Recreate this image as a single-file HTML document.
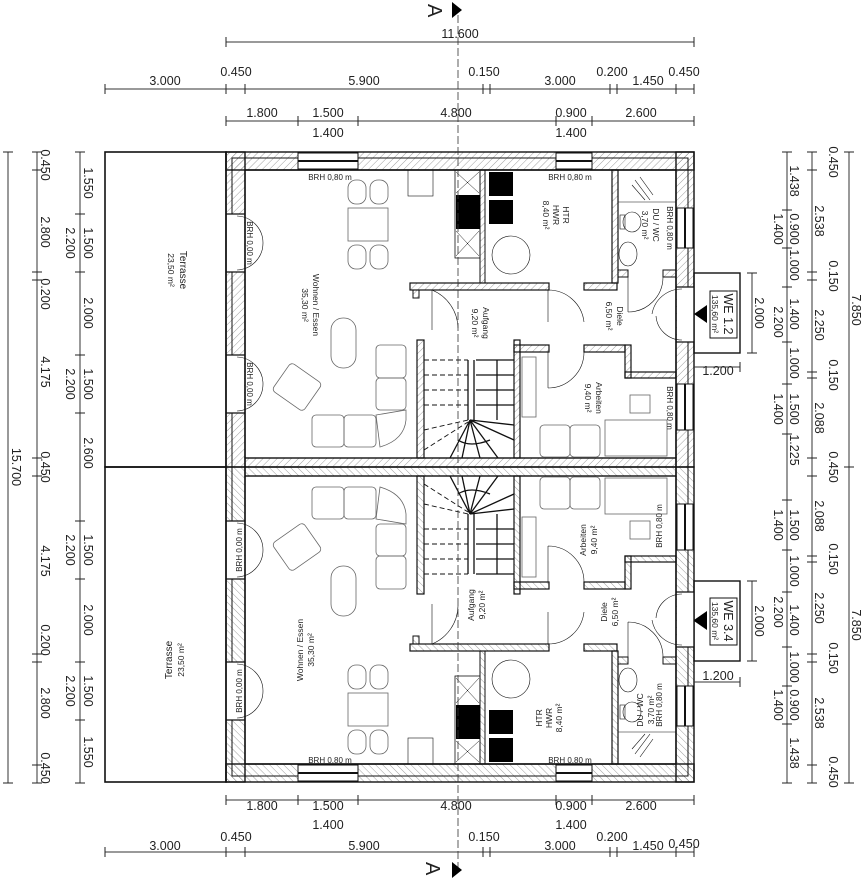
<!DOCTYPE html>
<html><head><meta charset="utf-8"><style>
html,body{margin:0;padding:0;background:#fff;}
svg{display:block;}
text{font-family:"Liberation Sans",sans-serif;fill:#222;}
.d{font-size:12.5px;}
.s{font-size:8px;}
.r{font-size:8.5px;}
</style></head><body>
<svg width="864" height="883" viewBox="0 0 864 883" xmlns="http://www.w3.org/2000/svg">
<defs>
<pattern id="h" width="5" height="5" patternUnits="userSpaceOnUse" patternTransform="rotate(45)">
<line x1="0" y1="0" x2="0" y2="5" stroke="#777" stroke-width="0.7"/>
</pattern>
<g id="half" fill="none" stroke="#111">
 <rect x="105" y="152" width="121" height="315" stroke-width="1.6"/>
 <rect x="226" y="152" width="468" height="18" fill="url(#h)" stroke-width="1.4"/>
 <rect x="226" y="152" width="19" height="315" fill="url(#h)" stroke-width="1.4"/>
 <rect x="676" y="152" width="18" height="315" fill="url(#h)" stroke-width="1.4"/>
 <rect x="245" y="458" width="431" height="9" fill="url(#h)" stroke-width="1.4"/>
 <rect x="232" y="158" width="456" height="12" stroke-width="1"/>
 <line x1="232" y1="158" x2="232" y2="467" stroke-width="1"/>
 <line x1="688" y1="158" x2="688" y2="467" stroke-width="1"/>
 <line x1="245" y1="170" x2="676" y2="170" stroke-width="1.4"/>
 <line x1="245" y1="170" x2="245" y2="458" stroke-width="1.4"/>
 <line x1="676" y1="170" x2="676" y2="458" stroke-width="1.4"/>
 <rect x="298" y="153" width="60" height="16" fill="#fff" stroke-width="1"/>
 <line x1="298" y1="161" x2="358" y2="161" stroke-width="2"/>
 <rect x="556" y="153" width="36" height="16" fill="#fff" stroke-width="1"/>
 <line x1="556" y1="161" x2="592" y2="161" stroke-width="2"/>
 <rect x="227" y="214" width="17" height="58" fill="#fff" stroke="none"/>
 <line x1="226" y1="214" x2="245" y2="214" stroke-width="1.2"/>
 <line x1="226" y1="272" x2="245" y2="272" stroke-width="1.2"/>
 <path d="M237 216 A27 27 0 0 1 263 243 M237 270 A27 27 0 0 0 263 243" stroke-width="0.6"/>
 <rect x="227" y="355" width="17" height="58" fill="#fff" stroke="none"/>
 <line x1="226" y1="355" x2="245" y2="355" stroke-width="1.2"/>
 <line x1="226" y1="413" x2="245" y2="413" stroke-width="1.2"/>
 <path d="M237 357 A27 27 0 0 1 263 384 M237 411 A27 27 0 0 0 263 384" stroke-width="0.6"/>
 <rect x="677" y="208" width="16" height="40" fill="#fff" stroke-width="1"/>
 <line x1="685" y1="208" x2="685" y2="248" stroke-width="2"/>
 <rect x="677" y="384" width="16" height="46" fill="#fff" stroke-width="1"/>
 <line x1="685" y1="384" x2="685" y2="430" stroke-width="2"/>
 <rect x="677" y="287" width="17" height="55" fill="#fff" stroke="none"/>
 <line x1="676" y1="287" x2="694" y2="287" stroke-width="1.2"/>
 <line x1="676" y1="342" x2="694" y2="342" stroke-width="1.2"/>
 <path d="M682 289 A30 30 0 0 0 652 314 M682 340 A26 26 0 0 1 656 316" stroke-width="0.6"/>
 <rect x="694" y="273" width="46" height="80" stroke-width="1.4"/>
 <polygon points="694,314 707,305 707,323" fill="#000" stroke="none"/>
 <rect x="480" y="170" width="5" height="113" fill="url(#h)" stroke-width="1"/>
 <rect x="410" y="283" width="139" height="7" fill="url(#h)" stroke-width="1.2"/>
 <rect x="584" y="283" width="33" height="7" fill="url(#h)" stroke-width="1.2"/>
 <rect x="612" y="170" width="6" height="113" fill="url(#h)" stroke-width="1.2"/>
 <rect x="618" y="270" width="10" height="7" fill="url(#h)" stroke-width="1"/>
 <rect x="663" y="270" width="13" height="7" fill="url(#h)" stroke-width="1"/>
 <rect x="514" y="345" width="35" height="7" fill="url(#h)" stroke-width="1.2"/>
 <rect x="584" y="345" width="41" height="7" fill="url(#h)" stroke-width="1.2"/>
 <rect x="625" y="345" width="6" height="33" fill="url(#h)" stroke-width="1.2"/>
 <rect x="625" y="372" width="51" height="6" fill="url(#h)" stroke-width="1.2"/>
 <rect x="514" y="340" width="6" height="118" fill="url(#h)" stroke-width="1.2"/>
 <rect x="417" y="340" width="7" height="118" fill="url(#h)" stroke-width="1.2"/>
 <rect x="413" y="290" width="6" height="8" fill="url(#h)" stroke-width="1"/>
 <path d="M432 290 L432 330 M432 290 A42 42 0 0 1 458 328" stroke-width="0.6"/>
 <path d="M548 290 L548 322 M548 290 A36 36 0 0 1 584 322" stroke-width="0.6"/>
 <path d="M548 352 L548 388 M548 388 A36 36 0 0 0 584 352" stroke-width="0.6"/>
 <path d="M628 277 L628 312 M628 312 A35 35 0 0 0 663 277" stroke-width="0.6"/>
 <rect x="455" y="170" width="25" height="88" stroke-width="0.8"/>
 <rect x="456" y="195" width="24" height="34" fill="#000" stroke="none"/>
 <path d="M456 172 L479 193 M479 172 L456 193 M456 231 L479 256 M479 231 L456 256" stroke-width="0.5"/>
 <rect x="408" y="170" width="25" height="26" stroke-width="0.6"/>
 <rect x="489" y="172" width="24" height="24" fill="#000" stroke="none"/>
 <rect x="489" y="200" width="24" height="24" fill="#000" stroke="none"/>
 <circle cx="511" cy="255" r="19" stroke-width="0.6"/>
 <line x1="618" y1="202" x2="676" y2="202" stroke-width="0.6"/>
 <path d="M635 180 L650 200 M640 177 L653 195 M632 185 L645 200" stroke-width="0.6"/>
 <ellipse cx="632" cy="222" rx="9" ry="10" stroke-width="0.6"/>
 <rect x="620" y="215" width="5" height="14" stroke-width="0.6"/>
 <ellipse cx="628" cy="254" rx="9" ry="12" stroke-width="0.6"/>
 <g stroke="#666" stroke-width="0.8">
 <rect x="348" y="208" width="40" height="33" fill="none"/>
 <rect x="348" y="180" width="18" height="24" rx="8"/><rect x="370" y="180" width="18" height="24" rx="8"/>
 <rect x="348" y="245" width="18" height="24" rx="8"/><rect x="370" y="245" width="18" height="24" rx="8"/>
 <rect x="331" y="318" width="25" height="50" rx="12"/>
 <rect x="376" y="345" width="30" height="33" rx="4"/><rect x="376" y="378" width="30" height="32" rx="4"/>
 <rect x="312" y="415" width="32" height="32" rx="4"/><rect x="344" y="415" width="32" height="32" rx="4"/>
 <path d="M376 415 L406 410 L406 420 Q404 440 380 447 Z"/>
 <rect x="278" y="370" width="38" height="34" rx="4" transform="rotate(35 297 387)"/>
 <rect x="540" y="425" width="30" height="32" rx="4"/><rect x="570" y="425" width="30" height="32" rx="4"/>
 <rect x="605" y="420" width="62" height="36"/>
 <rect x="630" y="395" width="20" height="18"/>
 <rect x="522" y="357" width="14" height="60"/>
 </g>
 <g stroke="#111" stroke-width="1.3">
 <line x1="474" y1="360" x2="474" y2="420"/><line x1="468" y1="360" x2="468" y2="420"/>
 <line x1="476" y1="360" x2="514" y2="360"/><line x1="476" y1="375" x2="514" y2="375"/>
 <line x1="476" y1="390" x2="514" y2="390"/><line x1="476" y1="405" x2="514" y2="405"/>
 <line x1="497" y1="360" x2="497" y2="420"/>
 <path d="M470 420 L450 458 M470 420 L462 458 M470 420 L480 458 M470 420 L498 458 M470 420 L514 440 M470 420 L514 425 M458 440 Q470 448 490 440"/>
 </g>
 <g stroke="#111" stroke-width="0.9" stroke-dasharray="5,3">
 <line x1="424" y1="360" x2="468" y2="360"/><line x1="424" y1="375" x2="468" y2="375"/>
 <line x1="424" y1="390" x2="468" y2="390"/><line x1="424" y1="405" x2="468" y2="405"/>
 <line x1="424" y1="430" x2="468" y2="420"/><line x1="424" y1="450" x2="468" y2="422"/>
 </g>
</g>
</defs>
<use href="#half"/>
<use href="#half" transform="translate(0,934) scale(1,-1)"/>

<line x1="458" y1="15" x2="458" y2="868" stroke="#333" stroke-width="0.8" stroke-dasharray="8,3"/>
<text x="428" y="20" font-size="20" transform="rotate(90 436 12)">A</text>
<polygon points="452,2 462,10 452,18" fill="#000"/>
<text x="428" y="880" font-size="20" transform="rotate(90 436 870)">A</text>
<polygon points="452,862 462,870 452,878" fill="#000"/>

<g stroke="#333" stroke-width="1" fill="none">
 <line x1="226" y1="42" x2="694" y2="42"/>
 <line x1="105" y1="89" x2="694" y2="89"/>
 <line x1="226" y1="121" x2="694" y2="121"/>
 <line x1="105" y1="852" x2="694" y2="852"/>
 <line x1="226" y1="800" x2="694" y2="800"/>
 <line x1="8" y1="152" x2="8" y2="783"/>
 <line x1="37" y1="152" x2="37" y2="783"/>
 <line x1="80" y1="152" x2="80" y2="783"/>
 <line x1="787" y1="152" x2="787" y2="783"/>
 <line x1="812" y1="152" x2="812" y2="783"/>
 <line x1="849" y1="152" x2="849" y2="783"/>
 <line x1="752" y1="273" x2="752" y2="353"/>
 <line x1="752" y1="581" x2="752" y2="661"/>
 <line x1="694" y1="367" x2="740" y2="367"/>
 <line x1="694" y1="682" x2="740" y2="682"/>
</g>
<g stroke="#222" stroke-width="1">
 <path d="M226 37v10M694 37v10
 M105 84v10M226 84v10M245 84v10M483 84v10M490 84v10M610 84v10M617 84v10M676 84v10M694 84v10
 M226 116v10M298 116v10M358 116v10M556 116v10M592 116v10M694 116v10
 M105 847v10M226 847v10M245 847v10M483 847v10M490 847v10M610 847v10M617 847v10M676 847v10M694 847v10
 M226 795v10M298 795v10M358 795v10M556 795v10M592 795v10M694 795v10
 M3 152h10M3 783h10
 M32 152h10M32 170h10M32 272h10M32 280h10M32 458h10M32 476h10M32 654h10M32 662h10M32 765h10M32 783h10
 M75 152h10M75 214h10M75 272h10M75 355h10M75 413h10M75 521h10M75 579h10M75 662h10M75 720h10M75 783h10
 M782 152h10M782 210h10M782 248h10M782 287h10M782 342h10M782 384h10M782 434h10M782 500h10M782 550h10M782 592h10M782 647h10M782 686h10M782 724h10M782 783h10
 M807 152h10M807 170h10M807 272h10M807 280h10M807 372h10M807 378h10M807 458h10M807 476h10M807 556h10M807 562h10M807 654h10M807 662h10M807 765h10M807 783h10
 M844 152h10M844 467h10M844 783h10
 M747 273h10M747 353h10M747 581h10M747 661h10M740 362v10M740 677v10"/>
</g>
<g class="d" text-anchor="middle">
 <text x="460" y="38">11.600</text>
 <text x="165" y="85">3.000</text><text x="236" y="76">0.450</text><text x="364" y="85">5.900</text>
 <text x="484" y="76">0.150</text><text x="560" y="85">3.000</text><text x="612" y="76">0.200</text>
 <text x="648" y="85">1.450</text><text x="684" y="76">0.450</text>
 <text x="262" y="117">1.800</text><text x="328" y="117">1.500</text><text x="328" y="137">1.400</text>
 <text x="456" y="117">4.800</text><text x="571" y="117">0.900</text><text x="571" y="137">1.400</text><text x="641" y="117">2.600</text>
 <text x="262" y="810">1.800</text><text x="328" y="810">1.500</text><text x="328" y="829">1.400</text>
 <text x="456" y="810">4.800</text><text x="571" y="810">0.900</text><text x="571" y="829">1.400</text><text x="641" y="810">2.600</text>
 <text x="165" y="850">3.000</text><text x="236" y="841">0.450</text><text x="364" y="850">5.900</text>
 <text x="484" y="841">0.150</text><text x="560" y="850">3.000</text><text x="612" y="841">0.200</text>
 <text x="648" y="850">1.450</text><text x="684" y="848">0.450</text>
 <text x="718" y="375">1.200</text><text x="718" y="680">1.200</text>
</g>
<g class="d" text-anchor="middle">
 <text transform="translate(12,467) rotate(90)">15.700</text>
 <text transform="translate(41,165) rotate(90)">0.450</text>
 <text transform="translate(41,232) rotate(90)">2.800</text>
 <text transform="translate(41,294) rotate(90)">0.200</text>
 <text transform="translate(41,372) rotate(90)">4.175</text>
 <text transform="translate(41,467) rotate(90)">0.450</text>
 <text transform="translate(41,561) rotate(90)">4.175</text>
 <text transform="translate(41,640) rotate(90)">0.200</text>
 <text transform="translate(41,703) rotate(90)">2.800</text>
 <text transform="translate(41,768) rotate(90)">0.450</text>
 <text transform="translate(84,183) rotate(90)">1.550</text>
 <text transform="translate(84,243) rotate(90)">1.500</text>
 <text transform="translate(66,243) rotate(90)">2.200</text>
 <text transform="translate(84,313) rotate(90)">2.000</text>
 <text transform="translate(84,384) rotate(90)">1.500</text>
 <text transform="translate(66,384) rotate(90)">2.200</text>
 <text transform="translate(84,453) rotate(90)">2.600</text>
 <text transform="translate(84,550) rotate(90)">1.500</text>
 <text transform="translate(66,550) rotate(90)">2.200</text>
 <text transform="translate(84,620) rotate(90)">2.000</text>
 <text transform="translate(84,691) rotate(90)">1.500</text>
 <text transform="translate(66,691) rotate(90)">2.200</text>
 <text transform="translate(84,752) rotate(90)">1.550</text>
 <text transform="translate(790,181) rotate(90)">1.438</text>
 <text transform="translate(790,229) rotate(90)">0.900</text>
 <text transform="translate(774,229) rotate(90)">1.400</text>
 <text transform="translate(790,265) rotate(90)">1.000</text>
 <text transform="translate(790,314) rotate(90)">1.400</text>
 <text transform="translate(774,322) rotate(90)">2.200</text>
 <text transform="translate(790,363) rotate(90)">1.000</text>
 <text transform="translate(790,409) rotate(90)">1.500</text>
 <text transform="translate(774,409) rotate(90)">1.400</text>
 <text transform="translate(790,450) rotate(90)">1.225</text>
 <text transform="translate(790,525) rotate(90)">1.500</text>
 <text transform="translate(774,525) rotate(90)">1.400</text>
 <text transform="translate(790,571) rotate(90)">1.000</text>
 <text transform="translate(790,620) rotate(90)">1.400</text>
 <text transform="translate(774,612) rotate(90)">2.200</text>
 <text transform="translate(790,667) rotate(90)">1.000</text>
 <text transform="translate(790,705) rotate(90)">0.900</text>
 <text transform="translate(774,705) rotate(90)">1.400</text>
 <text transform="translate(790,753) rotate(90)">1.438</text>
 <text transform="translate(829,162) rotate(90)">0.450</text>
 <text transform="translate(815,221) rotate(90)">2.538</text>
 <text transform="translate(829,276) rotate(90)">0.150</text>
 <text transform="translate(815,325) rotate(90)">2.250</text>
 <text transform="translate(829,375) rotate(90)">0.150</text>
 <text transform="translate(815,418) rotate(90)">2.088</text>
 <text transform="translate(829,467) rotate(90)">0.450</text>
 <text transform="translate(815,516) rotate(90)">2.088</text>
 <text transform="translate(829,559) rotate(90)">0.150</text>
 <text transform="translate(815,608) rotate(90)">2.250</text>
 <text transform="translate(829,658) rotate(90)">0.150</text>
 <text transform="translate(815,713) rotate(90)">2.538</text>
 <text transform="translate(829,772) rotate(90)">0.450</text>
 <text transform="translate(852,310) rotate(90)">7.850</text>
 <text transform="translate(852,625) rotate(90)">7.850</text>
 <text transform="translate(755,313) rotate(90)">2.000</text>
 <text transform="translate(755,621) rotate(90)">2.000</text>
</g>
<rect x="710" y="291" width="27" height="47" fill="#fff" stroke="#111"/>
<text font-size="12.5" text-anchor="middle" transform="translate(724,314) rotate(90)">WE 1.2</text>
<text font-size="8.5" text-anchor="middle" transform="translate(712,314) rotate(90)">135,60 m²</text>
<rect x="710" y="598" width="27" height="47" fill="#fff" stroke="#111"/>
<polygon points="694,621 707,612 707,630" fill="#000"/>
<text font-size="12.5" text-anchor="middle" transform="translate(724,621) rotate(90)">WE 3.4</text>
<text font-size="8.5" text-anchor="middle" transform="translate(712,621) rotate(90)">135,60 m²</text>

<g class="r" text-anchor="middle">
 <text transform="translate(180,270) rotate(90)" font-size="10">Terrasse</text>
 <text transform="translate(168,270) rotate(90)">23,50 m²</text>
 <text transform="translate(313,305) rotate(90)">Wohnen / Essen</text>
 <text transform="translate(302,305) rotate(90)">35,30 m²</text>
 <text transform="translate(483,323) rotate(90)">Aufgang</text>
 <text transform="translate(472,323) rotate(90)">9,20 m²</text>
 <text transform="translate(563,215) rotate(90)">HTR</text>
 <text transform="translate(553,215) rotate(90)">HWR</text>
 <text transform="translate(543,215) rotate(90)">8,40 m²</text>
 <text transform="translate(653,225) rotate(90)">DU / WC</text>
 <text transform="translate(642,225) rotate(90)">3,70 m²</text>
 <text transform="translate(617,316) rotate(90)">Diele</text>
 <text transform="translate(606,316) rotate(90)">6,50 m²</text>
 <text transform="translate(596,398) rotate(90)">Arbeiten</text>
 <text transform="translate(585,398) rotate(90)">9,40 m²</text>
 <text transform="translate(247,243) rotate(90)" class="s">BRH 0,00 m</text>
 <text transform="translate(247,384) rotate(90)" class="s">BRH 0,00 m</text>
 <text transform="translate(667,228) rotate(90)" class="s">BRH 0,80 m</text>
 <text transform="translate(667,408) rotate(90)" class="s">BRH 0,80 m</text>
 <text x="330" y="180" class="s">BRH 0,80 m</text>
 <text x="570" y="180" class="s">BRH 0,80 m</text>
</g>
<g class="r" text-anchor="middle">
 <text transform="translate(172,660) rotate(-90)" font-size="10">Terrasse</text>
 <text transform="translate(184,660) rotate(-90)">23,50 m²</text>
 <text transform="translate(303,650) rotate(-90)">Wohnen / Essen</text>
 <text transform="translate(314,650) rotate(-90)">35,30 m²</text>
 <text transform="translate(474,605) rotate(-90)">Aufgang</text>
 <text transform="translate(485,605) rotate(-90)">9,20 m²</text>
 <text transform="translate(542,718) rotate(-90)">HTR</text>
 <text transform="translate(552,718) rotate(-90)">HWR</text>
 <text transform="translate(562,718) rotate(-90)">8,40 m²</text>
 <text transform="translate(643,710) rotate(-90)">DU / WC</text>
 <text transform="translate(654,710) rotate(-90)">3,70 m²</text>
 <text transform="translate(607,612) rotate(-90)">Diele</text>
 <text transform="translate(618,612) rotate(-90)">6,50 m²</text>
 <text transform="translate(586,540) rotate(-90)">Arbeiten</text>
 <text transform="translate(597,540) rotate(-90)">9,40 m²</text>
 <text transform="translate(242,550) rotate(-90)" class="s">BRH 0,00 m</text>
 <text transform="translate(242,691) rotate(-90)" class="s">BRH 0,00 m</text>
 <text transform="translate(662,705) rotate(-90)" class="s">BRH 0,80 m</text>
 <text transform="translate(662,526) rotate(-90)" class="s">BRH 0,80 m</text>
 <text x="330" y="763" class="s">BRH 0,80 m</text>
 <text x="570" y="763" class="s">BRH 0,80 m</text>
</g>
</svg>
</body></html>
